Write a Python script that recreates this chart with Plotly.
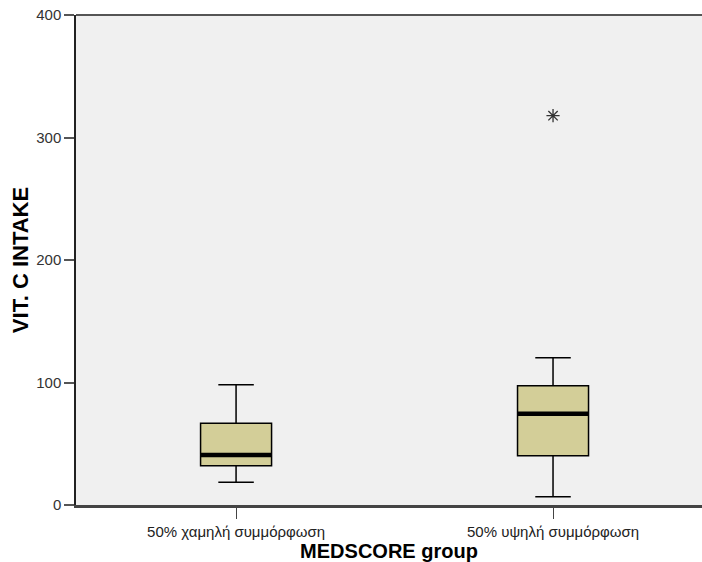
import plotly.graph_objects as go

categories = ["50% χαμηλή συμμόρφωση", "50% υψηλή συμμόρφωση"]
lower_whisker = [18.5, 6.8]
q1 = [32.0, 40.2]
median = [40.8, 74.5]
q3 = [66.7, 97.4]
upper_whisker = [98.2, 120.3]
outlier_group = [1]
outlier_value = [317.8]

y_ticks = [0, 100, 200, 300, 400]

BOX_W = 0.224
FILL = "#D3CE98"
FONT = "Liberation Sans, Arial, sans-serif"

positions = list(range(len(categories)))

fig = go.Figure()
fig.add_trace(go.Box(
    x=positions, q1=q1, median=median, q3=q3,
    lowerfence=lower_whisker, upperfence=upper_whisker,
    width=BOX_W, whiskerwidth=0.5,
    fillcolor=FILL, line=dict(color="#000000", width=1.5),
    boxpoints=False, showlegend=False, hoverinfo="skip",
))
for i, m in zip(positions, median):
    fig.add_trace(go.Scatter(
        x=[i - BOX_W / 2, i + BOX_W / 2], y=[m, m], mode="lines",
        line=dict(color="#000000", width=4.5), showlegend=False, hoverinfo="skip",
    ))
fig.add_trace(go.Scatter(
    x=outlier_group, y=outlier_value, mode="markers",
    marker=dict(symbol="asterisk-open", size=11, color="#333333",
                line=dict(color="#333333", width=1.3)),
    showlegend=False, hoverinfo="skip",
))

fig.update_layout(
    width=702, height=562,
    margin=dict(l=76, r=0, t=15, b=57),
    paper_bgcolor="#FFFFFF", plot_bgcolor="#F0F0F0",
    font=dict(family=FONT, color="#222222"),
    shapes=[dict(type="line", xref="paper", yref="paper", x0=0, x1=1, y0=1, y1=1,
                 line=dict(color="#555555", width=2))],
)
fig.update_xaxes(
    range=[-0.505, 1.47], tickvals=positions, ticktext=categories,
    showgrid=False, zeroline=False, automargin=False,
    showline=True, linecolor="#444444", linewidth=2.5,
    ticks="outside", ticklen=11, tickcolor="#444444", tickwidth=1,
    tickfont=dict(size=15, color="#222222"),
    title=dict(text="<b>MEDSCORE group</b>", font=dict(size=20, color="#000000"), standoff=2),
)
fig.update_yaxes(
    range=[0, 400], tickvals=y_ticks,
    showgrid=False, zeroline=False, automargin=False,
    showline=True, linecolor="#222222", linewidth=1.5,
    ticks="outside", ticklen=10, tickcolor="#555555", tickwidth=1.5,
    tickfont=dict(size=15, color="#333333"),
    title=dict(text="<b>VIT. C INTAKE</b>", font=dict(size=22, color="#000000"), standoff=2),
)

fig.write_html("out.html", config={"displayModeBar": False},
               post_script="document.body.style.margin='0';document.body.style.overflow='hidden';")
